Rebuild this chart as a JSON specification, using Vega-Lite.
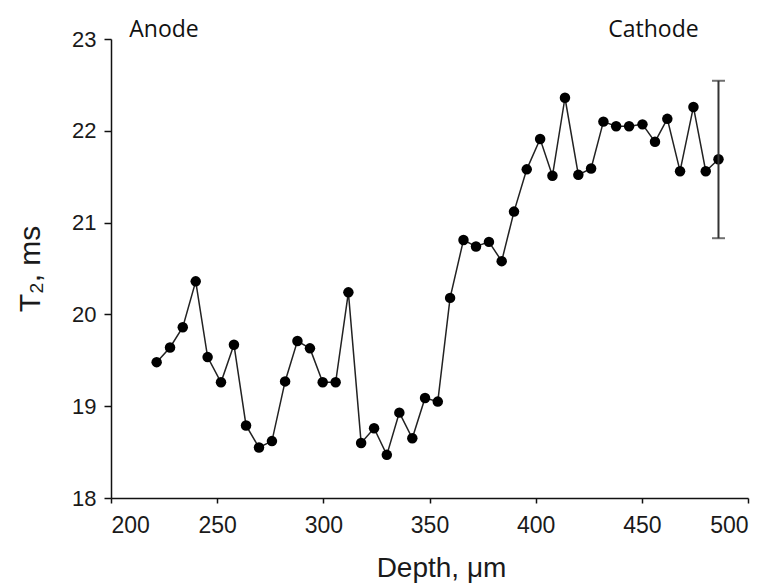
{
  "$schema": "https://vega.github.io/schema/vega-lite/v6.json",
  "width": 637,
  "height": 459,
  "autosize": "none",
  "padding": {"left": 111, "top": 39, "right": 22, "bottom": 88},
  "background": "white",
  "config": {
    "view": {"stroke": null},
    "axis": {"grid": false, "domainColor": "#111", "tickColor": "#111", "domainWidth": 1.5, "tickWidth": 1.5, "labelColor": "#1a1a1a", "titleColor": "#1a1a1a", "labelFont": "Liberation Sans", "titleFont": "Liberation Sans", "titleFontWeight": "normal"}
  },
  "datasets": {
    "pts": [
      {"depth": 221.5, "t2": 19.48}, {"depth": 227.8, "t2": 19.64}, {"depth": 233.8, "t2": 19.86},
      {"depth": 239.9, "t2": 20.36}, {"depth": 245.5, "t2": 19.535}, {"depth": 251.8, "t2": 19.26},
      {"depth": 257.9, "t2": 19.67}, {"depth": 263.6, "t2": 18.79}, {"depth": 269.7, "t2": 18.55},
      {"depth": 275.8, "t2": 18.62}, {"depth": 282.0, "t2": 19.27}, {"depth": 287.8, "t2": 19.71},
      {"depth": 293.7, "t2": 19.63}, {"depth": 299.7, "t2": 19.26}, {"depth": 305.8, "t2": 19.26},
      {"depth": 311.8, "t2": 20.24}, {"depth": 317.8, "t2": 18.6}, {"depth": 323.9, "t2": 18.76},
      {"depth": 329.9, "t2": 18.47}, {"depth": 335.8, "t2": 18.93}, {"depth": 341.9, "t2": 18.65},
      {"depth": 347.9, "t2": 19.09}, {"depth": 353.9, "t2": 19.05}, {"depth": 359.7, "t2": 20.18},
      {"depth": 366.0, "t2": 20.81}, {"depth": 371.9, "t2": 20.74}, {"depth": 378.0, "t2": 20.79},
      {"depth": 384.0, "t2": 20.58}, {"depth": 389.8, "t2": 21.12}, {"depth": 395.8, "t2": 21.58},
      {"depth": 402.1, "t2": 21.91}, {"depth": 407.9, "t2": 21.51}, {"depth": 413.8, "t2": 22.36},
      {"depth": 420.1, "t2": 21.52}, {"depth": 426.1, "t2": 21.59}, {"depth": 431.9, "t2": 22.1},
      {"depth": 437.9, "t2": 22.05}, {"depth": 444.0, "t2": 22.05}, {"depth": 450.3, "t2": 22.07},
      {"depth": 456.2, "t2": 21.88}, {"depth": 462.0, "t2": 22.13}, {"depth": 468.0, "t2": 21.56},
      {"depth": 474.3, "t2": 22.26}, {"depth": 480.1, "t2": 21.56}, {"depth": 486.1, "t2": 21.69}
    ],
    "err": [{"depth": 486.1, "lo": 20.83, "hi": 22.545}],
    "labels": [
      {"depth": 208.6, "t2": 23.025, "label": "Anode"},
      {"depth": 434.2, "t2": 23.025, "label": "Cathode"}
    ]
  },
  "layer": [
    {
      "data": {"name": "pts"},
      "mark": {"type": "line", "color": "#222", "strokeWidth": 1.5},
      "encoding": {
        "x": {"field": "depth", "type": "quantitative", "scale": {"domain": [200, 500], "nice": false, "zero": false},
              "axis": {"values": [200, 250, 300, 350, 400, 450, 500], "format": "d", "tickSize": 5, "labelFontSize": 23, "labelPadding": 11, "title": "Depth, μm", "titleFontSize": 28, "titlePadding": 17, "titleX": 330}},
        "y": {"field": "t2", "type": "quantitative", "scale": {"domain": [18, 23], "nice": false, "zero": false},
              "axis": {"values": [18, 19, 20, 21, 22, 23], "format": "d", "tickSize": 7, "labelFontSize": 22, "labelPadding": 8, "title": "T₂, ms", "titleFontSize": 30, "titlePadding": 26}}
      }
    },
    {
      "data": {"name": "pts"},
      "mark": {"type": "point", "filled": true, "color": "#000", "size": 110, "opacity": 1},
      "encoding": {
        "x": {"field": "depth", "type": "quantitative"},
        "y": {"field": "t2", "type": "quantitative"}
      }
    },
    {
      "data": {"name": "err"},
      "mark": {"type": "rule", "color": "#333", "strokeWidth": 2},
      "encoding": {
        "x": {"field": "depth", "type": "quantitative"},
        "y": {"field": "lo", "type": "quantitative"},
        "y2": {"field": "hi"}
      }
    },
    {
      "data": {"name": "err"},
      "mark": {"type": "tick", "orient": "horizontal", "color": "#333", "size": 13, "thickness": 2},
      "encoding": {
        "x": {"field": "depth", "type": "quantitative"},
        "y": {"field": "lo", "type": "quantitative"}
      }
    },
    {
      "data": {"name": "err"},
      "mark": {"type": "tick", "orient": "horizontal", "color": "#333", "size": 13, "thickness": 2},
      "encoding": {
        "x": {"field": "depth", "type": "quantitative"},
        "y": {"field": "hi", "type": "quantitative"}
      }
    },
    {
      "data": {"name": "labels"},
      "mark": {"type": "text", "align": "left", "baseline": "alphabetic", "font": "Open Sans", "fontSize": 23, "color": "#111", "clip": false},
      "encoding": {
        "x": {"field": "depth", "type": "quantitative"},
        "y": {"field": "t2", "type": "quantitative"},
        "text": {"field": "label"}
      }
    }
  ]
}
